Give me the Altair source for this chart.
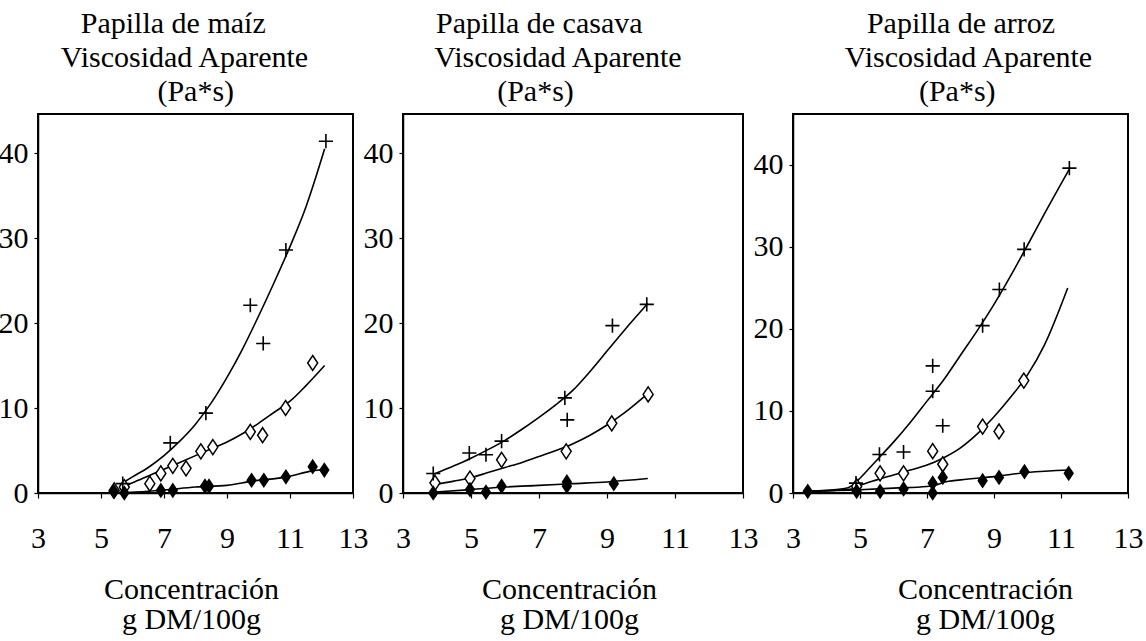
import altair as alt
import pandas as pd

FONT = "Liberation Serif"

# ---------------- data ----------------
# Panel 1: Papilla de maíz
maiz_plus_x = [5.69, 7.20, 8.33, 9.74, 10.15, 10.87, 12.14]
maiz_plus_y = [1.1, 5.9, 9.4, 22.1, 17.6, 28.6, 41.4]
maiz_open_x = [5.42, 5.74, 6.55, 6.90, 7.28, 7.70, 8.17, 8.55, 9.74, 10.13, 10.86, 11.72]
maiz_open_y = [0.3, 0.7, 1.1, 2.3, 3.2, 2.9, 4.9, 5.4, 7.2, 6.8, 10.0, 15.3]
maiz_fill_x = [5.40, 5.74, 6.90, 7.28, 8.30, 8.43, 9.78, 10.17, 10.87, 11.72, 12.09]
maiz_fill_y = [0.2, 0.0, 0.3, 0.3, 0.8, 0.8, 1.5, 1.5, 1.9, 3.1, 2.7]
maiz_top_x = [5.6, 6.0, 6.5, 7.0, 7.5, 8.0, 8.5, 9.0, 9.5, 10.0, 10.5, 11.0, 11.5, 12.1]
maiz_top_y = [1.0, 1.9, 3.0, 4.4, 6.1, 8.1, 10.6, 13.6, 17.0, 20.8, 24.8, 29.0, 33.6, 40.5]
maiz_mid_x = [5.6, 6.0, 6.5, 7.0, 7.5, 8.0, 8.5, 9.0, 9.5, 10.0, 10.5, 11.0, 11.5, 12.1]
maiz_mid_y = [0.5, 1.2, 2.0, 2.8, 3.6, 4.4, 5.2, 6.0, 7.0, 8.2, 9.5, 10.8, 12.6, 15.0]
maiz_bot_x = [5.5, 6.5, 7.0, 8.0, 9.0, 9.8, 10.9, 11.7, 12.1]
maiz_bot_y = [0.0, 0.2, 0.35, 0.7, 0.9, 1.4, 1.9, 2.6, 2.8]

# Panel 2: Papilla de casava
casava_plus_x = [3.89, 4.95, 5.44, 5.90, 7.76, 7.83, 9.16, 10.17]
casava_plus_y = [2.3, 4.7, 4.5, 6.1, 11.2, 8.6, 19.7, 22.2]
casava_open_x = [3.94, 4.97, 5.90, 7.80, 9.14, 10.21]
casava_open_y = [1.2, 1.7, 3.9, 4.9, 8.2, 11.6]
casava_fill_x = [3.89, 4.97, 5.44, 5.90, 7.82, 7.82, 9.20]
casava_fill_y = [0.0, 0.4, 0.1, 0.8, 0.8, 1.3, 1.1]
casava_top_x = [3.9, 4.5, 5.0, 5.5, 6.0, 6.5, 7.0, 7.5, 8.0, 8.5, 9.0, 9.5, 10.2]
casava_top_y = [2.2, 3.2, 4.1, 5.1, 6.2, 7.5, 8.9, 10.4, 12.1, 14.3, 16.7, 19.1, 22.3]
casava_mid_x = [3.9, 4.5, 5.0, 5.5, 6.0, 6.5, 7.0, 7.5, 8.0, 8.5, 9.0, 9.5, 10.2]
casava_mid_y = [1.0, 1.4, 1.8, 2.4, 3.0, 3.6, 4.3, 5.0, 5.8, 6.8, 8.0, 9.4, 11.7]
casava_bot_x = [3.9, 5.0, 6.0, 7.0, 8.0, 9.0, 10.2]
casava_bot_y = [0.1, 0.4, 0.7, 0.9, 1.1, 1.3, 1.7]

# Panel 3: Papilla de arroz
arroz_plus_x = [4.88, 5.58, 6.30, 7.17, 7.17, 7.47, 8.66, 9.16, 9.90, 11.25]
arroz_plus_y = [1.2, 4.7, 5.0, 15.5, 12.4, 8.2, 20.4, 24.8, 29.7, 39.6]
arroz_open_x = [4.90, 5.60, 6.30, 7.17, 7.47, 8.66, 9.15, 9.89]
arroz_open_y = [0.8, 2.4, 2.4, 5.1, 3.5, 8.1, 7.5, 13.7]
arroz_fill_x = [3.44, 4.90, 5.60, 6.30, 7.17, 7.17, 7.47, 8.66, 9.15, 9.91, 11.23]
arroz_fill_y = [0.2, 0.2, 0.2, 0.5, 1.2, 0.0, 1.9, 1.5, 1.9, 2.6, 2.4]
arroz_top_x = [3.4, 4.5, 4.8, 5.0, 5.5, 6.0, 6.5, 7.0, 7.5, 8.0, 8.5, 9.0, 9.5, 10.0, 10.5, 11.25]
arroz_top_y = [0.2, 0.5, 1.0, 1.8, 4.0, 6.2, 8.6, 11.2, 13.8, 16.8, 19.8, 23.0, 26.5, 30.2, 34.0, 39.5]
arroz_mid_x = [3.4, 4.8, 5.0, 5.5, 6.0, 6.5, 7.0, 7.5, 8.0, 8.5, 9.0, 9.5, 10.0, 10.5, 11.2]
arroz_mid_y = [0.2, 0.5, 0.9, 1.6, 2.2, 2.8, 3.4, 4.3, 5.5, 7.2, 9.3, 11.7, 14.4, 18.0, 25.0]
arroz_bot_x = [3.4, 5.0, 6.0, 7.0, 7.3, 7.5, 8.0, 9.0, 10.0, 11.25]
arroz_bot_y = [0.2, 0.4, 0.6, 0.8, 1.0, 1.3, 1.6, 2.0, 2.5, 2.8]

x_ticks = [3, 5, 7, 9, 11, 13]
y_ticks = [0, 10, 20, 30, 40]
x_title = ["Concentración", "g DM/100g"]
NB = "\u00a0"   # no-break space used to nudge a centred title line
ZW = "\u200b"   # keeps the nudging spaces from being trimmed

PLUS = "M-1,0L1,0M0,-1L0,1"
DIAM = "M0,-1.5L1,0L0,1.5L-1,0Z"


def pts(xs, ys):
    return pd.DataFrame({"x": xs, "y": ys})


def curves(pairs):
    frames = []
    for i, (xs, ys) in enumerate(pairs):
        d = pd.DataFrame({"x": xs, "y": ys})
        d["c"] = f"c{i}"
        frames.append(d)
    return pd.concat(frames, ignore_index=True)


def panel(title_lines, title_dx, ymax, width, titlex, plus, opn, fil, crv):
    xenc = alt.X(
        "x:Q",
        scale=alt.Scale(domain=[3, 13], nice=False, zero=False),
        axis=alt.Axis(
            values=x_ticks, grid=False, tickSize=5, labelPadding=25,
            labelFont=FONT, labelFontSize=30, labelColor="black",
            labelFlush=False, labelOverlap=False,
            title=x_title, titleFont=FONT, titleFontSize=30, titleFontWeight="normal",
            titleColor="black", titleX=titlex, titleY=105, titleAlign="center",
            titleBaseline="alphabetic", titleLineHeight=30,
        ),
    )
    yenc = alt.Y(
        "y:Q",
        scale=alt.Scale(domain=[0, ymax], nice=False),
        axis=alt.Axis(values=y_ticks, grid=False, tickSize=4, labelPadding=6,
                      labelFont=FONT, labelFontSize=30, labelColor="black"),
        title=None,
    )
    lines = alt.Chart(curves(crv)).mark_line(
        color="black", strokeWidth=1.6, interpolate="monotone"
    ).encode(x=xenc, y=yenc, detail="c:N")
    p_plus = alt.Chart(pts(*plus)).mark_point(
        shape=PLUS, size=200, filled=False, color="black", strokeWidth=1.6, opacity=1
    ).encode(x="x:Q", y="y:Q")
    p_open = alt.Chart(pts(*opn)).mark_point(
        shape=DIAM, size=100, filled=True, fill="white", stroke="black",
        strokeWidth=1.5, opacity=1
    ).encode(x="x:Q", y="y:Q")
    p_fill = alt.Chart(pts(*fil)).mark_point(
        shape=DIAM, size=110, filled=True, color="black", opacity=1
    ).encode(x="x:Q", y="y:Q")
    return alt.layer(lines, p_open, p_fill, p_plus).properties(
        width=width, height=379,
        title=alt.TitleParams(
            text=title_lines, font=FONT, fontSize=30, fontWeight="normal",
            color="black", lineHeight=34, anchor="middle", dx=title_dx,
            offset=-23, baseline="bottom",
        ),
    )


p1 = panel(
    ["Papilla de maíz" + NB * 3 + ZW, "Viscosidad Aparente", ZW + NB * 3 + "(Pa*s)"],
    -11, 44.6, 315, 153,
    (maiz_plus_x, maiz_plus_y), (maiz_open_x, maiz_open_y), (maiz_fill_x, maiz_fill_y),
    [(maiz_top_x, maiz_top_y), (maiz_mid_x, maiz_mid_y), (maiz_bot_x, maiz_bot_y)],
)
p2 = panel(
    ["Papilla de casava" + NB * 5 + ZW, "Viscosidad Aparente", "(Pa*s)" + NB * 6 + ZW],
    -15, 44.6, 340, 166,
    (casava_plus_x, casava_plus_y), (casava_open_x, casava_open_y), (casava_fill_x, casava_fill_y),
    [(casava_top_x, casava_top_y), (casava_mid_x, casava_mid_y), (casava_bot_x, casava_bot_y)],
)
p3 = panel(
    ["Papilla de arroz" + NB * 2 + ZW, "Viscosidad Aparente", "(Pa*s)" + NB * 3 + ZW],
    8, 46.2, 335, 192,
    (arroz_plus_x, arroz_plus_y), (arroz_open_x, arroz_open_y), (arroz_fill_x, arroz_fill_y),
    [(arroz_top_x, arroz_top_y), (arroz_mid_x, arroz_mid_y), (arroz_bot_x, arroz_bot_y)],
)

chart = alt.hconcat(p1, p2, p3, spacing=50, bounds="flush").properties(
    padding={"left": -3, "top": 8, "right": 0, "bottom": 0},
    background="white",
).configure_view(
    stroke="black", strokeWidth=2
).configure_axis(
    labelFont=FONT, labelFontSize=30, labelColor="black",
    titleFont=FONT, titleFontSize=30, titleFontWeight="normal", titleColor="black",
    domainColor="black", domainWidth=1.5, tickColor="black", tickWidth=1.2,
)

chart.save("out.html", embed_options={"renderer": "svg", "actions": False})
